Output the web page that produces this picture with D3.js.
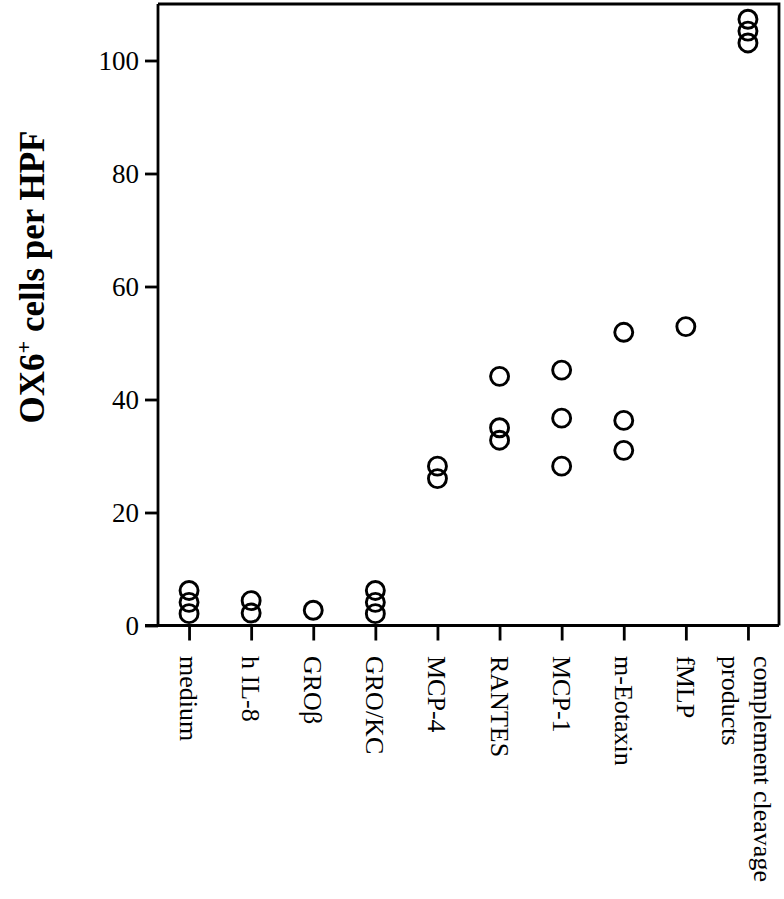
<!DOCTYPE html>
<html>
<head>
<meta charset="utf-8">
<script src="https://cdn.jsdelivr.net/npm/d3@7"></script>
<style>
  html, body { margin: 0; padding: 0; background: #fff; }
  svg { display: block; }
</style>
</head>
<body>
<svg id="chart" width="784" height="899"></svg>
<script>
const categories = ["medium", "h IL-8", "GROβ", "GRO/KC", "MCP-4", "RANTES", "MCP-1", "m-Eotaxin", "fMLP", "complement cleavage|products"];
const values = [
  [6.2, 4.1, 2.1],
  [4.4, 2.2],
  [2.7],
  [6.2, 4.1, 2.1],
  [28.2, 26.0],
  [44.1, 35.0, 32.8],
  [45.2, 36.7, 28.2],
  [51.9, 36.3, 31.0],
  [52.9],
  [107.3, 105.2, 103.1]
];
const yTicks = [0, 20, 40, 60, 80, 100];
const yTitle = "OX6";

(function () {
const svg = d3.select("#chart");
const mL = 158, mR = 779, mT = 4, mB = 625.5;

const x = d3.scalePoint().domain(categories).range([mL, mR]).padding(0.5);
const y = d3.scaleLinear().domain([0, 110]).range([mB, mT]);

const serif = "'Liberation Serif', 'Times New Roman', serif";

// frame (top and right)
svg.append("path")
  .attr("d", `M${mL},${mT}H${mR}V${mB}`)
  .attr("fill", "none").attr("stroke", "#000").attr("stroke-width", 2.8);

// y axis
const yAxis = svg.append("g").attr("transform", `translate(${mL},0)`)
  .call(d3.axisLeft(y).tickValues(yTicks).tickSize(13).tickPadding(6).tickSizeOuter(0));
yAxis.select(".domain").attr("stroke-width", 2.8).attr("d", `M0,${mT}V${mB}`);
yAxis.selectAll(".tick line").attr("stroke-width", 2.8);
yAxis.selectAll(".tick text").attr("font-family", serif).attr("font-size", 27).attr("fill", "#000");

// x axis
const xAxis = svg.append("g").attr("transform", `translate(0,${mB})`)
  .call(d3.axisBottom(x).tickSize(15).tickSizeOuter(0).tickFormat(""));
xAxis.select(".domain").attr("stroke-width", 2.8).attr("d", `M${mL - 13},0H${mR}`);
xAxis.selectAll(".tick line").attr("stroke-width", 2.8);

// category labels rotated
const lab = svg.append("g");
categories.forEach(c => {
  const parts = c.split("|");
  const t = lab.append("text")
    .attr("transform", `translate(${x(c)},656) rotate(90)`)
    .attr("font-family", serif).attr("font-size", 26)
    .attr("text-anchor", "start")
    .attr("dominant-baseline", "central");
  if (parts.length === 1) {
    t.append("tspan").attr("x", 0).attr("y", 0).text(parts[0]);
  } else {
    t.append("tspan").attr("x", 0).attr("y", -15).text(parts[0]);
    t.append("tspan").attr("x", 0).attr("y", 17).text(parts[1]);
  }
});

// points
const pts = [];
categories.forEach((c, i) => values[i].forEach(v => pts.push({c, v})));
svg.append("g").selectAll("circle").data(pts).join("circle")
  .attr("cx", d => x(d.c)).attr("cy", d => y(d.v)).attr("r", 9)
  .attr("fill", "none").attr("stroke", "#000").attr("stroke-width", 2.9);

// y title
const tt = svg.append("text")
  .attr("transform", `translate(44,277) rotate(-90)`)
  .attr("text-anchor", "middle")
  .attr("font-family", serif).attr("font-weight", "bold").attr("font-size", 35);
tt.append("tspan").text(yTitle);
tt.append("tspan").attr("font-size", 22).attr("dy", -13).text("+");
tt.append("tspan").attr("dy", 13).text(" cells per HPF");
})();
</script>
</body>
</html>
